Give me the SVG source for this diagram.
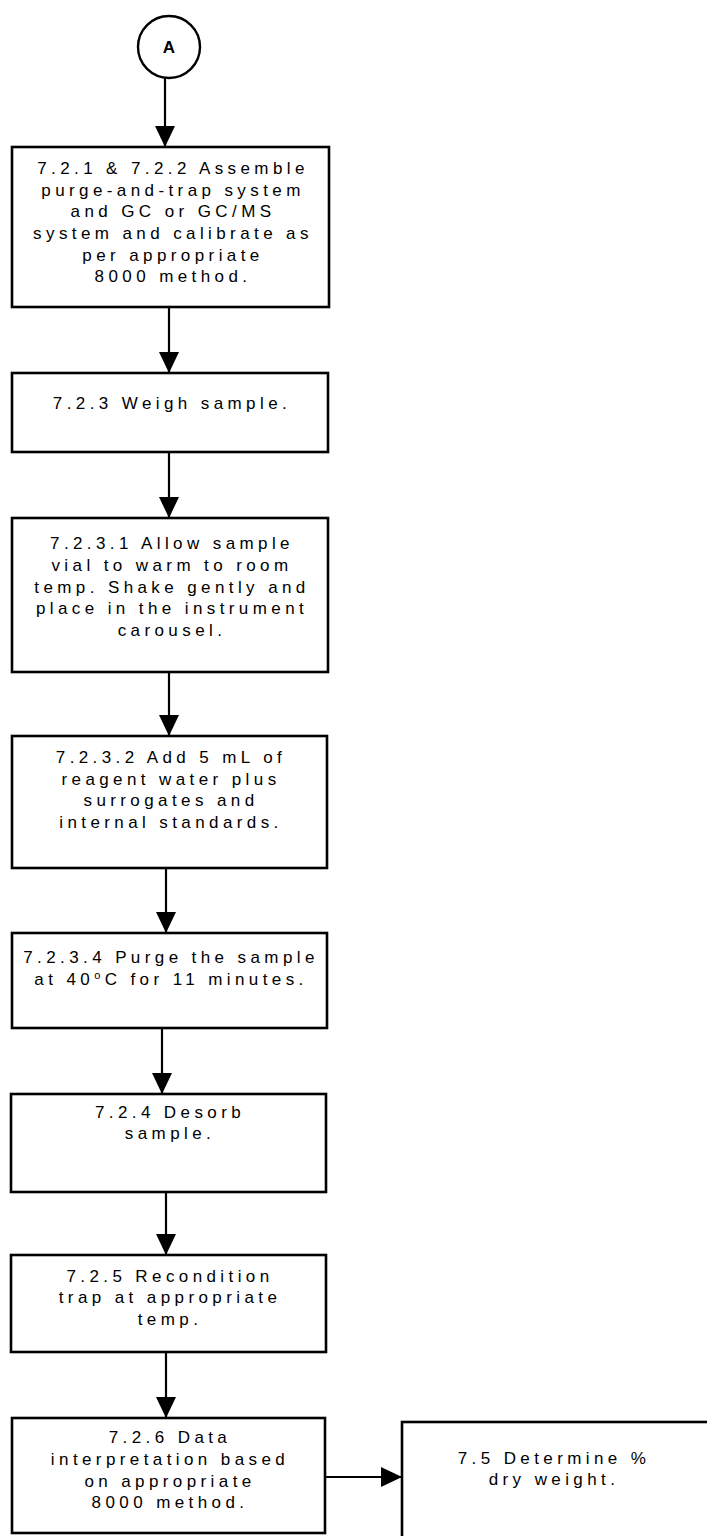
<svg xmlns="http://www.w3.org/2000/svg" width="707" height="1536" viewBox="0 0 707 1536">
<style>
  .box { fill: #fff; stroke: #000; stroke-width: 2.6; }
  .node ellipse { fill: #fff; stroke: #000; stroke-width: 2.4; }
  .t { font-family: "Liberation Sans", Arial, sans-serif; font-size: 17px; letter-spacing: 4.4px; text-anchor: middle; fill: #000; }
  .ca { font-family: "Liberation Sans", Arial, sans-serif; font-size: 17px; font-weight: bold; text-anchor: middle; fill: #000; }
  .conn line { stroke: #000; stroke-width: 2.2; }
</style>
<defs>
  <marker id="ah" markerWidth="22" markerHeight="22" refX="21" refY="10" orient="auto" markerUnits="userSpaceOnUse">
    <path d="M0,0 L21,10 L0,20 Z" fill="#000"/>
  </marker>
</defs>
<rect width="707" height="1536" fill="#fff"/>

<g id="connectors" class="conn">
  <line x1="165" y1="78" x2="165" y2="147" marker-end="url(#ah)"/>
  <line x1="169" y1="307" x2="169" y2="373" marker-end="url(#ah)"/>
  <line x1="169" y1="452" x2="169" y2="518" marker-end="url(#ah)"/>
  <line x1="169" y1="672" x2="169" y2="736" marker-end="url(#ah)"/>
  <line x1="166" y1="868" x2="166" y2="933" marker-end="url(#ah)"/>
  <line x1="162" y1="1028" x2="162" y2="1094" marker-end="url(#ah)"/>
  <line x1="166" y1="1192" x2="166" y2="1255" marker-end="url(#ah)"/>
  <line x1="166" y1="1352" x2="166" y2="1418" marker-end="url(#ah)"/>
  <line x1="325" y1="1477" x2="402" y2="1477" marker-end="url(#ah)"/>
</g>

<g id="nodeA" class="node">
  <ellipse cx="169" cy="47" rx="31" ry="31"/>
  <text class="ca" x="169" y="53">A</text>
</g>

<g id="n721">
  <rect class="box" x="12" y="147" width="317" height="160"/>
  <text class="t" x="173" y="174">7.2.1 &amp; 7.2.2 Assemble</text>
  <text class="t" x="173" y="196">purge-and-trap system</text>
  <text class="t" x="173" y="217">and GC or GC/MS</text>
  <text class="t" x="173" y="239">system and calibrate as</text>
  <text class="t" x="173" y="261">per appropriate</text>
  <text class="t" x="173" y="282">8000 method.</text>
</g>

<g id="n723">
  <rect class="box" x="12" y="373" width="316" height="79"/>
  <text class="t" x="172" y="409">7.2.3 Weigh sample.</text>
</g>

<g id="n7231">
  <rect class="box" x="12" y="518" width="316" height="154"/>
  <text class="t" x="172" y="549">7.2.3.1 Allow sample</text>
  <text class="t" x="172" y="571">vial to warm to room</text>
  <text class="t" x="172" y="593">temp. Shake gently and</text>
  <text class="t" x="172" y="614">place in the instrument</text>
  <text class="t" x="172" y="636">carousel.</text>
</g>

<g id="n7232">
  <rect class="box" x="12" y="736" width="315" height="132"/>
  <text class="t" x="171" y="763">7.2.3.2 Add 5 mL of</text>
  <text class="t" x="171" y="785">reagent water plus</text>
  <text class="t" x="171" y="806">surrogates and</text>
  <text class="t" x="171" y="828">internal standards.</text>
</g>

<g id="n7234">
  <rect class="box" x="12" y="933" width="315" height="95"/>
  <text class="t" x="171" y="963">7.2.3.4 Purge the sample</text>
  <text class="t" x="171" y="985">at 40<tspan font-size="11" dy="-6">o</tspan><tspan dy="6">C for 11 minutes.</tspan></text>
</g>

<g id="n724">
  <rect class="box" x="11" y="1094" width="315" height="98"/>
  <text class="t" x="170" y="1118">7.2.4 Desorb</text>
  <text class="t" x="170" y="1139">sample.</text>
</g>

<g id="n725">
  <rect class="box" x="11" y="1255" width="315" height="97"/>
  <text class="t" x="170" y="1282">7.2.5 Recondition</text>
  <text class="t" x="170" y="1303">trap at appropriate</text>
  <text class="t" x="170" y="1325">temp.</text>
</g>

<g id="n726">
  <rect class="box" x="12" y="1418" width="313" height="115"/>
  <text class="t" x="170" y="1443">7.2.6 Data</text>
  <text class="t" x="170" y="1465">interpretation based</text>
  <text class="t" x="170" y="1487">on appropriate</text>
  <text class="t" x="170" y="1508">8000 method.</text>
</g>

<g id="n75">
  <rect class="box" x="402" y="1422" width="320" height="130"/>
  <text class="t" x="554" y="1464">7.5 Determine %</text>
  <text class="t" x="554" y="1485">dry weight.</text>
</g>
</svg>
